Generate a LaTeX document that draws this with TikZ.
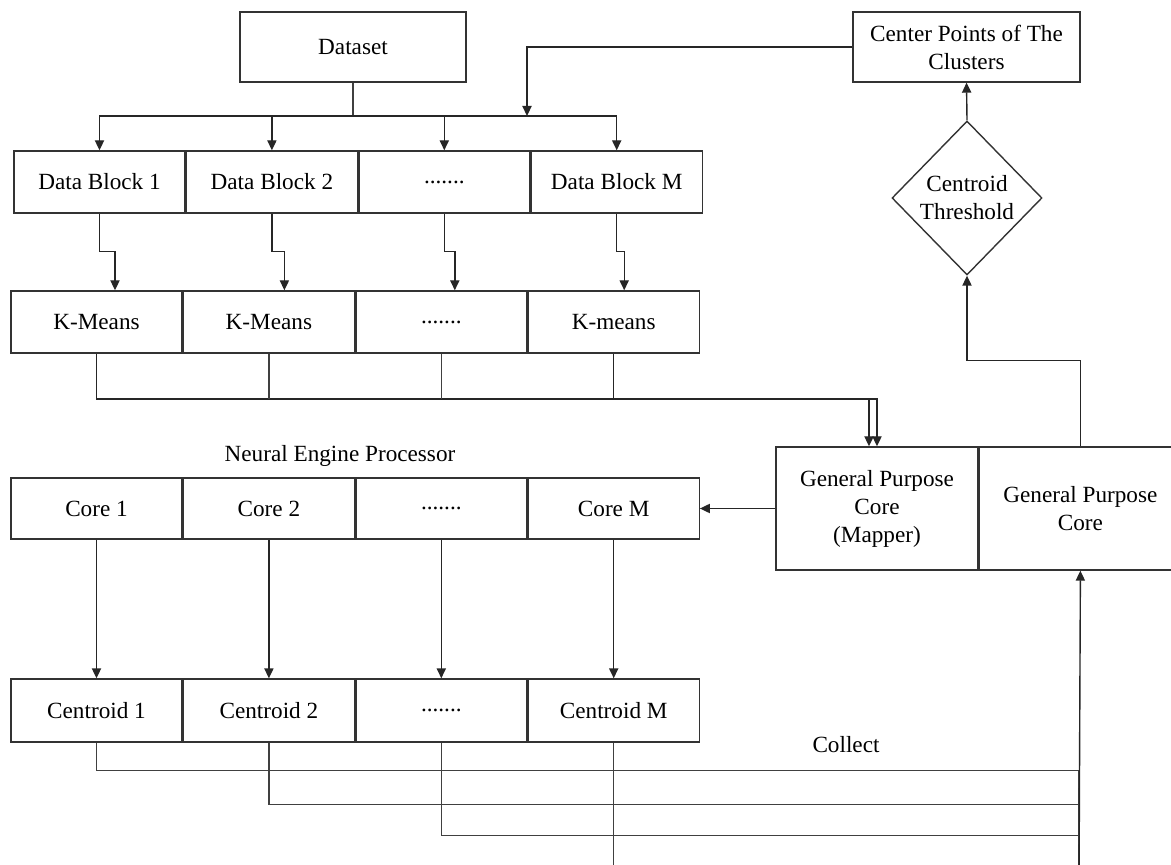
\documentclass[tikz,border=0pt]{standalone}
\usepackage{fontspec}
\setmainfont{Liberation Serif}
\usetikzlibrary{arrows.meta,positioning,shapes.geometric}

\begin{document}
\begin{tikzpicture}[
        x=0.5pt, y=-0.5pt,
        font=\fontsize{11.6}{14}\selectfont,
        line width=0.7pt,
        box/.style={draw=black!80, align=center, inner sep=0pt},
        cell/.style={box, minimum width=85.5pt},
        cond/.style={box, diamond, minimum width=75pt, minimum height=77pt},
        wire/.style={black!75},
        arr/.style={-{Triangle[length=5pt,width=4.6pt]}, black!85}
    ]
        \useasboundingbox (0,0) rectangle (1171,865);

        \node[box, minimum width=113pt, minimum height=35pt] (dataset) at (353,47) {Dataset};
        \node[box, minimum width=113.5pt, minimum height=35pt] (centers) at (966.5,47) {Center Points of The\\Clusters};
        \node[cond] (thresh) at (967,198) {Centroid\\Threshold};

        \node[cell, minimum height=31pt] (db1) at (99.5,182) {Data Block 1};
        \node[cell, minimum height=31pt, right=0pt of db1] (db2) {Data Block 2};
        \node[cell, minimum height=31pt, right=0pt of db2] (db3) {.......};
        \node[cell, minimum height=31pt, right=0pt of db3] (db4) {Data Block M};

        \node[cell, minimum height=31pt] (km1) at (96.5,322) {K-Means};
        \node[cell, minimum height=31pt, right=0pt of km1] (km2) {K-Means};
        \node[cell, minimum height=31pt, right=0pt of km2] (km3) {.......};
        \node[cell, minimum height=31pt, right=0pt of km3] (km4) {K-means};

        \node (nep) at (340,456) {Neural Engine Processor};
        \node[cell, minimum height=30.5pt] (core1) at (96.5,508.5) {Core 1};
        \node[cell, minimum height=30.5pt, right=0pt of core1] (core2) {Core 2};
        \node[cell, minimum height=30.5pt, right=0pt of core2] (core3) {.......};
        \node[cell, minimum height=30.5pt, right=0pt of core3] (core4) {Core M};

        \node[cell, minimum height=31.5pt] (cen1) at (96.5,710.5) {Centroid 1};
        \node[cell, minimum height=31.5pt, right=0pt of cen1] (cen2) {Centroid 2};
        \node[cell, minimum height=31.5pt, right=0pt of cen2] (cen3) {.......};
        \node[cell, minimum height=31.5pt, right=0pt of cen3] (cen4) {Centroid M};

        \node[box, minimum width=101pt, minimum height=61.5pt] (mapper) at (877,508.5) {General Purpose\\Core\\(Mapper)};
        \node[box, minimum width=101pt, minimum height=61.5pt, right=0pt of mapper] (gp) {General Purpose\\Core};
        \node (collect) at (846,745) {Collect};

        % dataset split into blocks
        \coordinate (split) at (353,116);
        \coordinate (back) at (527,116);
        \draw[wire] (dataset.south) -- (split);
        \draw[arr] (split) -| (db1.north);
        \draw[arr] (split) -| (db2.north);
        \draw[arr] (split) -| (db3.north);
        \draw[arr] (split) -| (db4.north);
        \draw[arr] (centers.west) -| (back);

        % blocks to k-means
        \draw[arr] (db1.south) -- ++(0,38) -| ([xshift=9.25pt]km1.north);
        \draw[arr] (db2.south) -- ++(0,38) -| ([xshift=7.75pt]km2.north);
        \draw[arr] (db3.south) -- ++(0,38) -| ([xshift=6.75pt]km3.north);
        \draw[arr] (db4.south) -- ++(0,38) -| ([xshift=5.25pt]km4.north);

        % k-means to mapper
        \coordinate (kbus) at (869,399);
        \draw[arr] (km1.south) |- (kbus) -- (kbus |- mapper.north);
        \draw[wire] (km2.south) -- (km2.south |- kbus);
        \draw[wire] (km3.south) -- (km3.south |- kbus);
        \draw[arr] (km4.south) |- (mapper.north |- kbus) -- (mapper.north);

        % mapper to cores to centroids
        \draw[arr] (mapper.west) -- (core4.east);
        \draw[arr] (core1.south) -- (cen1.north);
        \draw[arr] (core2.south) -- (cen2.north);
        \draw[arr] (core3.south) -- (cen3.north);
        \draw[arr] (core4.south) -- (cen4.north);

        % collect
        \coordinate (gather) at (1079,885);
        \draw[wire] (cen1.south) -- ++(0,28) -| (gather);
        \draw[wire] (cen2.south) -- ++(0,62) -| (gather);
        \draw[wire] (cen3.south) -- ++(0,93) -| (gather);
        \draw[wire] (cen4.south) -- ++(0,140) -| (gather);
        \draw[arr] (gather) -- (gp.south);

        % back to the center points
        \draw[arr] (gp.north) -- ++(0,-86) -| (thresh.south);
        \draw[arr] (thresh.north) -- (centers.south);
    \end{tikzpicture}
\end{document}
